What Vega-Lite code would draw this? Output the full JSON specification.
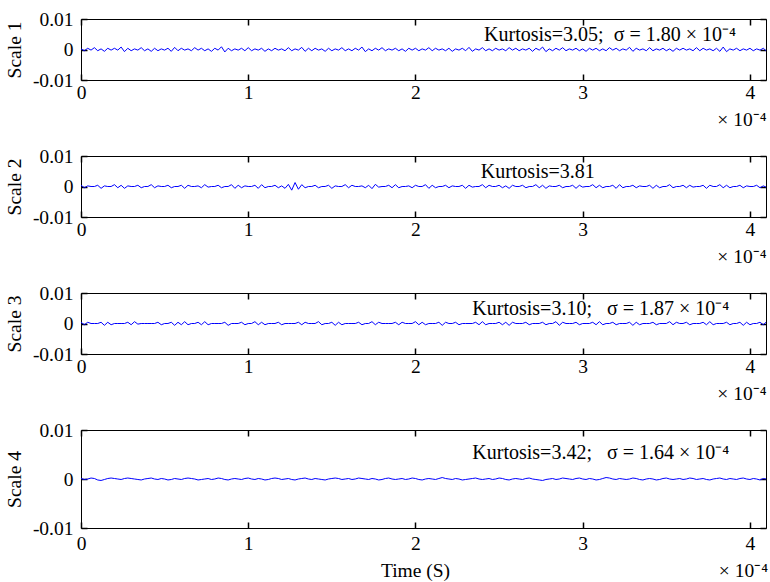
{
"$schema":"https://vega.github.io/schema/vega-lite/v6.json",
"background":"white",
"padding":{"left":3,"top":8,"right":0,"bottom":0},
"bounds":"flush",
"spacing":76,
"data":{"values":[
{"t":0,"a":2e-4,"b":4e-4,"c":4e-4,"d":1e-4},
{"t":0.02,"a":-4e-4,"b":-4e-4,"c":-4e-4,"d":-1e-4},
{"t":0.04,"a":4e-4,"b":2e-4,"c":4e-4,"d":0},
{"t":0.06,"a":-2e-4,"b":0,"c":0,"d":2e-4},
{"t":0.08,"a":6e-4,"b":0,"c":0,"d":1e-4},
{"t":0.1,"a":-4e-4,"b":4e-4,"c":0,"d":-2e-4},
{"t":0.12,"a":2e-4,"b":-6e-4,"c":4e-4,"d":-3e-4},
{"t":0.14,"a":-6e-4,"b":2e-4,"c":-6e-4,"d":-1e-4},
{"t":0.16,"a":4e-4,"b":0,"c":4e-4,"d":1e-4},
{"t":0.18,"a":-2e-4,"b":0,"c":-4e-4,"d":2e-4},
{"t":0.2,"a":4e-4,"b":6e-4,"c":0,"d":1e-4},
{"t":0.22,"a":-2e-4,"b":-4e-4,"c":0,"d":0},
{"t":0.24,"a":8e-4,"b":4e-4,"c":0,"d":-1e-4},
{"t":0.26,"a":-7e-4,"b":-6e-4,"c":0,"d":1e-4},
{"t":0.28,"a":4e-4,"b":2e-4,"c":4e-4,"d":2e-4},
{"t":0.3,"a":-4e-4,"b":0,"c":-4e-4,"d":1e-4},
{"t":0.32,"a":2e-4,"b":0,"c":6e-4,"d":0},
{"t":0.34,"a":-2e-4,"b":4e-4,"c":-2e-4,"d":-1e-4},
{"t":0.36,"a":6e-4,"b":-4e-4,"c":0,"d":-2e-4},
{"t":0.38,"a":-4e-4,"b":0,"c":0,"d":0},
{"t":0.4,"a":2e-4,"b":0,"c":0,"d":1e-4},
{"t":0.42,"a":-6e-4,"b":6e-4,"c":0,"d":2e-4},
{"t":0.44,"a":4e-4,"b":-4e-4,"c":0,"d":0},
{"t":0.46,"a":-4e-4,"b":2e-4,"c":4e-4,"d":-1e-4},
{"t":0.48,"a":2e-4,"b":0,"c":-4e-4,"d":1e-4},
{"t":0.5,"a":-2e-4,"b":0,"c":0,"d":0},
{"t":0.52,"a":4e-4,"b":4e-4,"c":0,"d":-2e-4},
{"t":0.54,"a":-6e-4,"b":-4e-4,"c":4e-4,"d":-1e-4},
{"t":0.56,"a":7e-4,"b":0,"c":-6e-4,"d":1e-4},
{"t":0.58,"a":-4e-4,"b":0,"c":4e-4,"d":0},
{"t":0.6,"a":4e-4,"b":4e-4,"c":-4e-4,"d":-1e-4},
{"t":0.62,"a":-2e-4,"b":-6e-4,"c":6e-4,"d":1e-4},
{"t":0.64,"a":2e-4,"b":4e-4,"c":-4e-4,"d":2e-4},
{"t":0.66,"a":-4e-4,"b":0,"c":0,"d":1e-4},
{"t":0.68,"a":6e-4,"b":0,"c":0,"d":0},
{"t":0.7,"a":-2e-4,"b":2e-4,"c":4e-4,"d":-2e-4},
{"t":0.72,"a":4e-4,"b":-4e-4,"c":-4e-4,"d":-1e-4},
{"t":0.74,"a":-4e-4,"b":6e-4,"c":6e-4,"d":0},
{"t":0.76,"a":2e-4,"b":-2e-4,"c":-4e-4,"d":1e-4},
{"t":0.78,"a":-6e-4,"b":0,"c":0,"d":-1e-4},
{"t":0.8,"a":4e-4,"b":0,"c":0,"d":0},
{"t":0.82,"a":-2e-4,"b":4e-4,"c":0,"d":2e-4},
{"t":0.84,"a":9e-4,"b":-4e-4,"c":0,"d":1e-4},
{"t":0.86,"a":-8e-4,"b":0,"c":4e-4,"d":-1e-4},
{"t":0.88,"a":4e-4,"b":0,"c":-6e-4,"d":-2e-4},
{"t":0.9,"a":-4e-4,"b":6e-4,"c":0,"d":0},
{"t":0.92,"a":2e-4,"b":-6e-4,"c":0,"d":1e-4},
{"t":0.94,"a":-2e-4,"b":4e-4,"c":0,"d":0},
{"t":0.96,"a":4e-4,"b":-4e-4,"c":4e-4,"d":-1e-4},
{"t":0.98,"a":-4e-4,"b":2e-4,"c":-4e-4,"d":1e-4},
{"t":1,"a":6e-4,"b":0,"c":0,"d":2e-4},
{"t":1.02,"a":-4e-4,"b":0,"c":0,"d":0},
{"t":1.04,"a":2e-4,"b":4e-4,"c":6e-4,"d":-1e-4},
{"t":1.06,"a":-2e-4,"b":-6e-4,"c":-4e-4,"d":1e-4},
{"t":1.08,"a":4e-4,"b":6e-4,"c":4e-4,"d":0},
{"t":1.1,"a":-6e-4,"b":-4e-4,"c":-4e-4,"d":-2e-4},
{"t":1.12,"a":2e-4,"b":0,"c":0,"d":-1e-4},
{"t":1.14,"a":-4e-4,"b":0,"c":0,"d":1e-4},
{"t":1.16,"a":4e-4,"b":4e-4,"c":0,"d":2e-4},
{"t":1.18,"a":-2e-4,"b":-4e-4,"c":4e-4,"d":1e-4},
{"t":1.2,"a":2e-4,"b":2e-4,"c":-4e-4,"d":-1e-4},
{"t":1.22,"a":-4e-4,"b":-6e-4,"c":0,"d":0},
{"t":1.24,"a":6e-4,"b":7e-4,"c":0,"d":1e-4},
{"t":1.26,"a":-4e-4,"b":-12e-4,"c":0,"d":-1e-4},
{"t":1.28,"a":2e-4,"b":13e-4,"c":0,"d":-2e-4},
{"t":1.3,"a":-2e-4,"b":-9e-4,"c":4e-4,"d":0},
{"t":1.32,"a":7e-4,"b":6e-4,"c":-4e-4,"d":1e-4},
{"t":1.34,"a":-6e-4,"b":-4e-4,"c":4e-4,"d":2e-4},
{"t":1.36,"a":4e-4,"b":0,"c":0,"d":0},
{"t":1.38,"a":-4e-4,"b":0,"c":0,"d":-1e-4},
{"t":1.4,"a":4e-4,"b":4e-4,"c":0,"d":1e-4},
{"t":1.42,"a":-2e-4,"b":-4e-4,"c":6e-4,"d":0},
{"t":1.44,"a":2e-4,"b":0,"c":-4e-4,"d":-1e-4},
{"t":1.46,"a":-6e-4,"b":0,"c":0,"d":-2e-4},
{"t":1.48,"a":4e-4,"b":4e-4,"c":0,"d":0},
{"t":1.5,"a":-4e-4,"b":-6e-4,"c":4e-4,"d":1e-4},
{"t":1.52,"a":2e-4,"b":2e-4,"c":-6e-4,"d":2e-4},
{"t":1.54,"a":-2e-4,"b":0,"c":4e-4,"d":1e-4},
{"t":1.56,"a":6e-4,"b":0,"c":-4e-4,"d":-1e-4},
{"t":1.58,"a":-4e-4,"b":6e-4,"c":0,"d":0},
{"t":1.6,"a":2e-4,"b":-4e-4,"c":0,"d":1e-4},
{"t":1.62,"a":-4e-4,"b":4e-4,"c":0,"d":-1e-4},
{"t":1.64,"a":4e-4,"b":0,"c":0,"d":0},
{"t":1.66,"a":-2e-4,"b":0,"c":4e-4,"d":2e-4},
{"t":1.68,"a":8e-4,"b":2e-4,"c":-4e-4,"d":1e-4},
{"t":1.7,"a":-7e-4,"b":-4e-4,"c":0,"d":0},
{"t":1.72,"a":2e-4,"b":4e-4,"c":0,"d":-1e-4},
{"t":1.74,"a":-4e-4,"b":-7e-4,"c":6e-4,"d":1e-4},
{"t":1.76,"a":4e-4,"b":7e-4,"c":-4e-4,"d":0},
{"t":1.78,"a":-2e-4,"b":-2e-4,"c":4e-4,"d":-2e-4},
{"t":1.8,"a":6e-4,"b":0,"c":0,"d":-1e-4},
{"t":1.82,"a":-4e-4,"b":0,"c":0,"d":1e-4},
{"t":1.84,"a":2e-4,"b":4e-4,"c":0,"d":2e-4},
{"t":1.86,"a":-2e-4,"b":-4e-4,"c":0,"d":0},
{"t":1.88,"a":4e-4,"b":6e-4,"c":4e-4,"d":-1e-4},
{"t":1.9,"a":-4e-4,"b":-4e-4,"c":-4e-4,"d":0},
{"t":1.92,"a":2e-4,"b":0,"c":4e-4,"d":1e-4},
{"t":1.94,"a":-6e-4,"b":0,"c":0,"d":-1e-4},
{"t":1.96,"a":4e-4,"b":2e-4,"c":0,"d":0},
{"t":1.98,"a":-2e-4,"b":-4e-4,"c":0,"d":2e-4},
{"t":2,"a":4e-4,"b":4e-4,"c":6e-4,"d":1e-4},
{"t":2.02,"a":-4e-4,"b":0,"c":-4e-4,"d":-1e-4},
{"t":2.04,"a":2e-4,"b":0,"c":4e-4,"d":-2e-4},
{"t":2.06,"a":-2e-4,"b":6e-4,"c":-4e-4,"d":0},
{"t":2.08,"a":6e-4,"b":-6e-4,"c":0,"d":1e-4},
{"t":2.1,"a":-4e-4,"b":4e-4,"c":0,"d":0},
{"t":2.12,"a":4e-4,"b":-4e-4,"c":0,"d":-1e-4},
{"t":2.14,"a":-2e-4,"b":0,"c":4e-4,"d":1e-4},
{"t":2.16,"a":2e-4,"b":0,"c":-6e-4,"d":3e-4},
{"t":2.18,"a":-4e-4,"b":4e-4,"c":4e-4,"d":1e-4},
{"t":2.2,"a":4e-4,"b":-4e-4,"c":0,"d":0},
{"t":2.22,"a":-6e-4,"b":2e-4,"c":0,"d":-1e-4},
{"t":2.24,"a":2e-4,"b":0,"c":4e-4,"d":1e-4},
{"t":2.26,"a":-2e-4,"b":0,"c":-4e-4,"d":0},
{"t":2.28,"a":4e-4,"b":4e-4,"c":0,"d":-2e-4},
{"t":2.3,"a":-4e-4,"b":-6e-4,"c":0,"d":-1e-4},
{"t":2.32,"a":7e-4,"b":4e-4,"c":0,"d":0},
{"t":2.34,"a":-6e-4,"b":-2e-4,"c":0,"d":1e-4},
{"t":2.36,"a":2e-4,"b":0,"c":4e-4,"d":2e-4},
{"t":2.38,"a":-2e-4,"b":0,"c":-4e-4,"d":0},
{"t":2.4,"a":6e-4,"b":6e-4,"c":6e-4,"d":-1e-4},
{"t":2.42,"a":-4e-4,"b":-4e-4,"c":-4e-4,"d":0},
{"t":2.44,"a":2e-4,"b":4e-4,"c":0,"d":1e-4},
{"t":2.46,"a":-4e-4,"b":0,"c":0,"d":-1e-4},
{"t":2.48,"a":4e-4,"b":0,"c":0,"d":0},
{"t":2.5,"a":-2e-4,"b":4e-4,"c":4e-4,"d":2e-4},
{"t":2.52,"a":2e-4,"b":-4e-4,"c":-4e-4,"d":1e-4},
{"t":2.54,"a":-4e-4,"b":2e-4,"c":4e-4,"d":-1e-4},
{"t":2.56,"a":6e-4,"b":-6e-4,"c":-6e-4,"d":-2e-4},
{"t":2.58,"a":-2e-4,"b":4e-4,"c":4e-4,"d":0},
{"t":2.6,"a":4e-4,"b":0,"c":0,"d":1e-4},
{"t":2.62,"a":-4e-4,"b":0,"c":0,"d":0},
{"t":2.64,"a":2e-4,"b":4e-4,"c":0,"d":-1e-4},
{"t":2.66,"a":-2e-4,"b":-4e-4,"c":4e-4,"d":1e-4},
{"t":2.68,"a":4e-4,"b":0,"c":-4e-4,"d":2e-4},
{"t":2.7,"a":-6e-4,"b":0,"c":0,"d":0},
{"t":2.72,"a":4e-4,"b":6e-4,"c":0,"d":-1e-4},
{"t":2.74,"a":-2e-4,"b":-4e-4,"c":0,"d":-2e-4},
{"t":2.76,"a":8e-4,"b":4e-4,"c":4e-4,"d":-3e-4},
{"t":2.78,"a":-7e-4,"b":-6e-4,"c":-4e-4,"d":-1e-4},
{"t":2.8,"a":2e-4,"b":2e-4,"c":0,"d":0},
{"t":2.82,"a":-4e-4,"b":0,"c":0,"d":1e-4},
{"t":2.84,"a":4e-4,"b":0,"c":6e-4,"d":-1e-4},
{"t":2.86,"a":-2e-4,"b":4e-4,"c":-6e-4,"d":0},
{"t":2.88,"a":6e-4,"b":-4e-4,"c":4e-4,"d":2e-4},
{"t":2.9,"a":-4e-4,"b":0,"c":0,"d":1e-4},
{"t":2.92,"a":2e-4,"b":0,"c":0,"d":0},
{"t":2.94,"a":-2e-4,"b":4e-4,"c":0,"d":-1e-4},
{"t":2.96,"a":4e-4,"b":-6e-4,"c":4e-4,"d":1e-4},
{"t":2.98,"a":-4e-4,"b":4e-4,"c":-4e-4,"d":2e-4},
{"t":3,"a":2e-4,"b":-2e-4,"c":0,"d":0},
{"t":3.02,"a":-6e-4,"b":0,"c":0,"d":-1e-4},
{"t":3.04,"a":4e-4,"b":0,"c":0,"d":1e-4},
{"t":3.06,"a":-2e-4,"b":6e-4,"c":4e-4,"d":0},
{"t":3.08,"a":4e-4,"b":-4e-4,"c":-4e-4,"d":-2e-4},
{"t":3.1,"a":-4e-4,"b":4e-4,"c":6e-4,"d":-1e-4},
{"t":3.12,"a":2e-4,"b":-4e-4,"c":-4e-4,"d":1e-4},
{"t":3.14,"a":-4e-4,"b":0,"c":0,"d":3e-4},
{"t":3.16,"a":6e-4,"b":0,"c":0,"d":2e-4},
{"t":3.18,"a":-2e-4,"b":4e-4,"c":4e-4,"d":0},
{"t":3.2,"a":4e-4,"b":-6e-4,"c":-4e-4,"d":-1e-4},
{"t":3.22,"a":-4e-4,"b":6e-4,"c":0,"d":1e-4},
{"t":3.24,"a":2e-4,"b":-4e-4,"c":0,"d":0},
{"t":3.26,"a":-2e-4,"b":0,"c":0,"d":-1e-4},
{"t":3.28,"a":7e-4,"b":0,"c":4e-4,"d":0},
{"t":3.3,"a":-6e-4,"b":4e-4,"c":-6e-4,"d":2e-4},
{"t":3.32,"a":4e-4,"b":-4e-4,"c":4e-4,"d":1e-4},
{"t":3.34,"a":-2e-4,"b":2e-4,"c":-4e-4,"d":-1e-4},
{"t":3.36,"a":2e-4,"b":0,"c":0,"d":-2e-4},
{"t":3.38,"a":-4e-4,"b":0,"c":0,"d":0},
{"t":3.4,"a":6e-4,"b":4e-4,"c":0,"d":1e-4},
{"t":3.42,"a":-4e-4,"b":-6e-4,"c":4e-4,"d":0},
{"t":3.44,"a":2e-4,"b":4e-4,"c":-4e-4,"d":-2e-4},
{"t":3.46,"a":-2e-4,"b":-4e-4,"c":0,"d":-1e-4},
{"t":3.48,"a":4e-4,"b":0,"c":0,"d":1e-4},
{"t":3.5,"a":-4e-4,"b":0,"c":0,"d":2e-4},
{"t":3.52,"a":2e-4,"b":6e-4,"c":6e-4,"d":0},
{"t":3.54,"a":-6e-4,"b":-4e-4,"c":-4e-4,"d":-1e-4},
{"t":3.56,"a":4e-4,"b":0,"c":4e-4,"d":0},
{"t":3.58,"a":-2e-4,"b":0,"c":0,"d":1e-4},
{"t":3.6,"a":4e-4,"b":4e-4,"c":0,"d":-1e-4},
{"t":3.62,"a":-2e-4,"b":-4e-4,"c":4e-4,"d":0},
{"t":3.64,"a":2e-4,"b":4e-4,"c":-4e-4,"d":2e-4},
{"t":3.66,"a":-4e-4,"b":-2e-4,"c":0,"d":1e-4},
{"t":3.68,"a":6e-4,"b":0,"c":0,"d":-1e-4},
{"t":3.7,"a":-4e-4,"b":0,"c":0,"d":0},
{"t":3.72,"a":4e-4,"b":4e-4,"c":4e-4,"d":1e-4},
{"t":3.74,"a":-2e-4,"b":-6e-4,"c":-4e-4,"d":-1e-4},
{"t":3.76,"a":2e-4,"b":4e-4,"c":6e-4,"d":-2e-4},
{"t":3.78,"a":-4e-4,"b":0,"c":-4e-4,"d":0},
{"t":3.8,"a":4e-4,"b":0,"c":0,"d":1e-4},
{"t":3.82,"a":-6e-4,"b":6e-4,"c":0,"d":2e-4},
{"t":3.84,"a":8e-4,"b":-4e-4,"c":0,"d":0},
{"t":3.86,"a":-7e-4,"b":4e-4,"c":4e-4,"d":-1e-4},
{"t":3.88,"a":2e-4,"b":-4e-4,"c":-4e-4,"d":1e-4},
{"t":3.9,"a":-2e-4,"b":0,"c":0,"d":0},
{"t":3.92,"a":4e-4,"b":0,"c":0,"d":-1e-4},
{"t":3.94,"a":-4e-4,"b":4e-4,"c":4e-4,"d":1e-4},
{"t":3.96,"a":2e-4,"b":-4e-4,"c":-6e-4,"d":2e-4},
{"t":3.98,"a":-2e-4,"b":2e-4,"c":4e-4,"d":0},
{"t":4,"a":4e-4,"b":0,"c":-4e-4,"d":-1e-4},
{"t":4.02,"a":-4e-4,"b":0,"c":0,"d":1e-4},
{"t":4.04,"a":2e-4,"b":4e-4,"c":0,"d":0},
{"t":4.06,"a":-2e-4,"b":-4e-4,"c":4e-4,"d":-2e-4},
{"t":4.08,"a":4e-4,"b":2e-4,"c":-4e-4,"d":1e-4},
{"t":4.096,"a":-4e-4,"b":-2e-4,"c":4e-4,"d":0}
]},
"config":{
"font":"Liberation Serif",
"view":{"stroke":"black","strokeWidth":1},
"axis":{"grid":false,"domain":false,"labelFont":"Liberation Serif","labelFontSize":19.5,"labelColor":"black","titleFont":"Liberation Serif","titleFontSize":19.5,"titleFontWeight":"normal","titleColor":"black","tickColor":"black","tickWidth":1.5,"labelFlush":false},
"axisX":{"labelPadding":9,"titlePadding":9},
"axisY":{"labelPadding":14,"titlePadding":8},
"text":{"font":"Liberation Serif","fontSize":20,"color":"black"},
"line":{"color":"#0000ff","strokeWidth":1}
},
"vconcat":[
{"width":685,"height":61,
"resolve":{"axis":{"x":"independent","y":"independent"}},
"layer":[
{"mark":{"type":"line","color":"#0000ff","strokeWidth":1},
"encoding":{
"x":{"field":"t","type":"quantitative","scale":{"domain":[0,4.096],"nice":false},"axis":{"orient":"bottom","values":[0,1,2,3,4],"tickSize":-6,"format":"d","title":"× 10⁻⁴","titleAnchor":"end","titleAlign":"right"}},
"y":{"field":"a","type":"quantitative","scale":{"domain":[-0.01,0.01],"nice":false},"axis":{"orient":"left","values":[-0.01,0,0.01],"tickSize":-6,"labelExpr":"datum.value < 0 ? '-' + format(-datum.value, '.2~f') : format(datum.value, '.2~f')","title":"Scale 1"}}}},
{"data":{"values":[{"t":2.41,"v":0.0047,"label":"Kurtosis=3.05;\u00a0\u00a0σ = 1.80 × 10⁻⁴"}]},
"mark":{"type":"text","align":"left","baseline":"middle"},
"encoding":{
"x":{"field":"t","type":"quantitative","axis":{"orient":"top","labels":false,"title":null,"values":[0,1,2,3,4],"tickSize":-6}},
"y":{"field":"v","type":"quantitative","axis":{"orient":"right","labels":false,"title":null,"values":[-0.01,0,0.01],"tickSize":-6}},
"text":{"field":"label"}}}
]},
{"width":685,"height":61,
"resolve":{"axis":{"x":"independent","y":"independent"}},
"layer":[
{"mark":{"type":"line","color":"#0000ff","strokeWidth":1},
"encoding":{
"x":{"field":"t","type":"quantitative","scale":{"domain":[0,4.096],"nice":false},"axis":{"orient":"bottom","values":[0,1,2,3,4],"tickSize":-6,"format":"d","title":"× 10⁻⁴","titleAnchor":"end","titleAlign":"right"}},
"y":{"field":"b","type":"quantitative","scale":{"domain":[-0.01,0.01],"nice":false},"axis":{"orient":"left","values":[-0.01,0,0.01],"tickSize":-6,"labelExpr":"datum.value < 0 ? '-' + format(-datum.value, '.2~f') : format(datum.value, '.2~f')","title":"Scale 2"}}}},
{"data":{"values":[{"t":2.39,"v":0.0048,"label":"Kurtosis=3.81"}]},
"mark":{"type":"text","align":"left","baseline":"middle"},
"encoding":{
"x":{"field":"t","type":"quantitative","axis":{"orient":"top","labels":false,"title":null,"values":[0,1,2,3,4],"tickSize":-6}},
"y":{"field":"v","type":"quantitative","axis":{"orient":"right","labels":false,"title":null,"values":[-0.01,0,0.01],"tickSize":-6}},
"text":{"field":"label"}}}
]},
{"width":685,"height":61,
"resolve":{"axis":{"x":"independent","y":"independent"}},
"layer":[
{"mark":{"type":"line","color":"#0000ff","strokeWidth":1},
"encoding":{
"x":{"field":"t","type":"quantitative","scale":{"domain":[0,4.096],"nice":false},"axis":{"orient":"bottom","values":[0,1,2,3,4],"tickSize":-6,"format":"d","title":"× 10⁻⁴","titleAnchor":"end","titleAlign":"right"}},
"y":{"field":"c","type":"quantitative","scale":{"domain":[-0.01,0.01],"nice":false},"axis":{"orient":"left","values":[-0.01,0,0.01],"tickSize":-6,"labelExpr":"datum.value < 0 ? '-' + format(-datum.value, '.2~f') : format(datum.value, '.2~f')","title":"Scale 3"}}}},
{"data":{"values":[{"t":2.34,"v":0.0048,"label":"Kurtosis=3.10;\u00a0\u00a0\u00a0σ = 1.87 × 10⁻⁴"}]},
"mark":{"type":"text","align":"left","baseline":"middle"},
"encoding":{
"x":{"field":"t","type":"quantitative","axis":{"orient":"top","labels":false,"title":null,"values":[0,1,2,3,4],"tickSize":-6}},
"y":{"field":"v","type":"quantitative","axis":{"orient":"right","labels":false,"title":null,"values":[-0.01,0,0.01],"tickSize":-6}},
"text":{"field":"label"}}}
]},
{"width":685,"height":98,
"resolve":{"axis":{"x":"independent","y":"independent"}},
"layer":[
{"mark":{"type":"line","color":"#0000ff","strokeWidth":1},
"encoding":{
"x":{"field":"t","type":"quantitative","scale":{"domain":[0,4.096],"nice":false},"axis":{"orient":"bottom","values":[0,1,2,3,4],"tickSize":-6,"format":"d","title":"Time (S)","labelPadding":12,"titleX":334}},
"y":{"field":"d","type":"quantitative","scale":{"domain":[-0.01,0.01],"nice":false},"axis":{"orient":"left","values":[-0.01,0,0.01],"tickSize":-6,"labelExpr":"datum.value < 0 ? '-' + format(-datum.value, '.2~f') : format(datum.value, '.2~f')","title":"Scale 4"}}}},
{"data":{"values":[{"t":2.34,"v":0.0054,"label":"Kurtosis=3.42;\u00a0\u00a0\u00a0σ = 1.64 × 10⁻⁴"}]},
"mark":{"type":"text","align":"left","baseline":"middle"},
"encoding":{
"x":{"field":"t","type":"quantitative","axis":{"orient":"top","labels":false,"title":null,"values":[0,1,2,3,4],"tickSize":-6}},
"y":{"field":"v","type":"quantitative","axis":{"orient":"right","labels":false,"title":null,"values":[-0.01,0,0.01],"tickSize":-6}},
"text":{"field":"label"}}},
{"data":{"values":[{"t":4.096,"v":-0.0188,"label":"× 10⁻⁴"}]},
"mark":{"type":"text","align":"right","baseline":"middle","dx":2,"fontSize":19.5},
"encoding":{
"x":{"field":"t","type":"quantitative","axis":null},
"y":{"field":"v","type":"quantitative","axis":null},
"text":{"field":"label"}}}
]}
]
}
